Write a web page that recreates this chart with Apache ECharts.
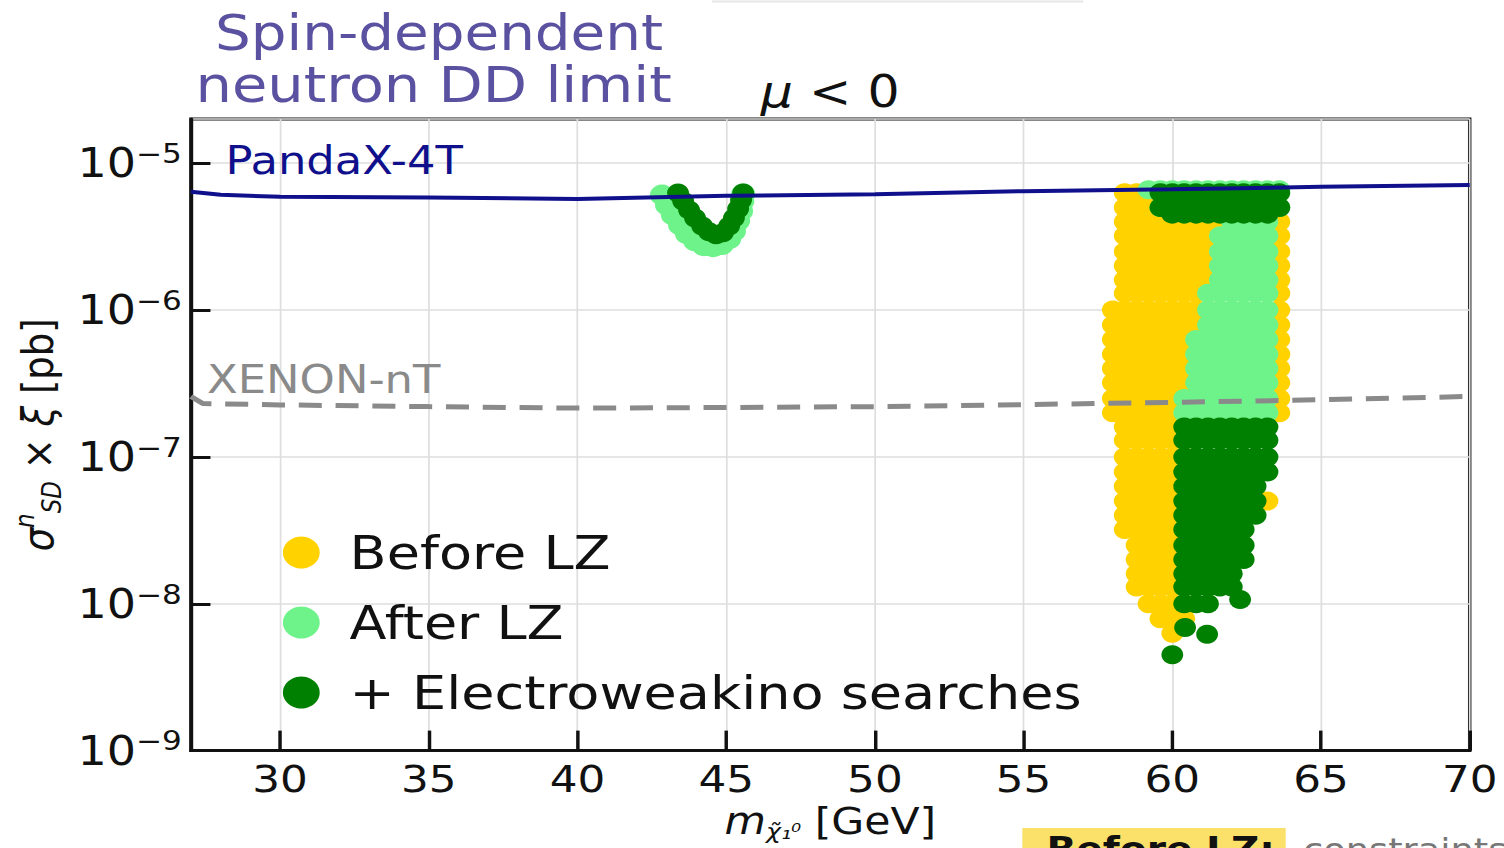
<!DOCTYPE html>
<html>
<head>
<meta charset="utf-8">
<script src="https://cdn.jsdelivr.net/npm/echarts@6/dist/echarts.min.js"></script>
<style>
html,body{margin:0;padding:0;background:#fff;overflow:hidden;width:1504px;height:848px;}
#chart{width:1308px;height:848px;transform:scaleX(1.15);transform-origin:0 0;}
</style>
</head>
<body>
<div id="chart"></div>
<script>
// ---------- data ----------
const xTicks = [30, 35, 40, 45, 50, 55, 60, 65, 70];

// upper limit curves: [mass GeV, sigma pb]
const pandaX4T = [[27, 6.4e-6], [28, 6.1e-6], [30, 5.9e-6], [35, 5.85e-6], [40, 5.7e-6], [45, 6.0e-6],
                  [50, 6.15e-6], [55, 6.45e-6], [60, 6.65e-6], [65, 6.9e-6], [70, 7.1e-6]];
const xenonNT = [[27, 2.58e-7], [27.4, 2.31e-7], [30, 2.26e-7], [35, 2.2e-7], [40, 2.15e-7], [45, 2.17e-7],
                 [50, 2.2e-7], [55, 2.27e-7], [60, 2.35e-7], [65, 2.45e-7], [70, 2.58e-7]];

// scan points, row by row: [sigma pb, [masses GeV]]
const beforeLZRows = [
  [6.3e-6, [58.4, 58.8, 59.2]],
  [5.0e-6, [58.4, 58.8, 59.2, 59.6]],
  [4.0e-6, [58.4, 58.8, 59.2, 59.6, 60.0, 60.4, 60.8, 61.2, 61.6, 62.0, 63.6]],
  [3.2e-6, [58.4, 58.8, 59.2, 59.6, 60.0, 60.4, 60.8, 61.2, 61.6, 63.6]],
  [2.5e-6, [58.4, 58.8, 59.2, 59.6, 60.0, 60.4, 60.8, 61.2, 61.6, 63.6]],
  [2.0e-6, [58.4, 58.8, 59.2, 59.6, 60.0, 60.4, 60.8, 61.2, 61.6, 63.6]],
  [1.6e-6, [58.4, 58.8, 59.2, 59.6, 60.0, 60.4, 60.8, 61.2, 61.6, 63.6]],
  [1.3e-6, [58.4, 58.8, 59.2, 59.6, 60.0, 60.4, 60.8, 61.2, 63.6]],
  [1.0e-6, [58.0, 58.4, 58.8, 59.2, 59.6, 60.0, 60.4, 60.8, 61.2, 63.6]],
  [7.9e-7, [58.0, 58.4, 58.8, 59.2, 59.6, 60.0, 60.4, 60.8, 61.2, 63.6]],
  [6.3e-7, [58.0, 58.4, 58.8, 59.2, 59.6, 60.0, 60.4, 60.8, 63.6]],
  [5.0e-7, [58.0, 58.4, 58.8, 59.2, 59.6, 60.0, 60.4, 60.8, 63.6]],
  [4.0e-7, [58.0, 58.4, 58.8, 59.2, 59.6, 60.0, 60.4, 60.8, 63.6]],
  [3.2e-7, [58.0, 58.4, 58.8, 59.2, 59.6, 60.0, 60.4, 60.8, 63.6]],
  [2.5e-7, [58.0, 58.4, 58.8, 59.2, 59.6, 60.0, 60.4, 63.6]],
  [2.0e-7, [58.0, 58.4, 58.8, 59.2, 59.6, 60.0, 60.4, 63.6]],
  [1.6e-7, [58.4, 58.8, 59.2, 59.6, 60.0, 60.4]],
  [1.3e-7, [58.4, 58.8, 59.2, 59.6, 60.0, 60.4]],
  [1.0e-7, [58.4, 58.8, 59.2, 59.6, 60.0, 60.4]],
  [7.9e-8, [58.4, 58.8, 59.2, 59.6, 60.0, 60.4]],
  [6.3e-8, [58.4, 58.8, 59.2, 59.6, 60.0, 60.4]],
  [5.0e-8, [58.4, 58.8, 59.2, 59.6, 60.0, 60.4, 63.2]],
  [4.0e-8, [58.4, 58.8, 59.2, 59.6, 60.0, 60.4]],
  [3.2e-8, [58.4, 58.8, 59.2, 59.6, 60.0, 60.4]],
  [2.5e-8, [58.8, 59.2, 59.6, 60.0, 60.4]],
  [2.0e-8, [58.8, 59.2, 59.6, 60.0, 60.4]],
  [1.6e-8, [58.8, 59.2, 59.6, 60.0, 60.4]],
  [1.3e-8, [58.8, 59.2, 59.6, 60.0, 60.4]],
  [1.0e-8, [59.2, 59.6, 60.0, 60.4]],
  [7.9e-9, [59.6, 60.0, 60.4]],
  [6.3e-9, [60.0]]
];

const afterLZRows = [
  [6.6e-6, [59.2, 59.6, 60.0, 60.4, 60.8, 61.2, 61.6, 62.0, 62.4, 62.8, 63.2, 63.6]],
  [5.0e-6, [59.6, 60.0, 60.4, 60.8, 61.2, 61.6, 62.0, 62.4, 62.8, 63.2, 63.6]],
  [4.0e-6, [62.0, 62.4, 62.8, 63.2]],
  [3.2e-6, [61.6, 62.0, 62.4, 62.8, 63.2]],
  [2.5e-6, [61.6, 62.0, 62.4, 62.8, 63.2]],
  [2.0e-6, [61.6, 62.0, 62.4, 62.8, 63.2]],
  [1.6e-6, [61.6, 62.0, 62.4, 62.8, 63.2]],
  [1.3e-6, [61.2, 61.6, 62.0, 62.4, 62.8, 63.2]],
  [1.0e-6, [61.2, 61.6, 62.0, 62.4, 62.8, 63.2]],
  [7.9e-7, [61.2, 61.6, 62.0, 62.4, 62.8, 63.2]],
  [6.3e-7, [60.8, 61.2, 61.6, 62.0, 62.4, 62.8, 63.2]],
  [5.0e-7, [60.8, 61.2, 61.6, 62.0, 62.4, 62.8, 63.2]],
  [4.0e-7, [60.8, 61.2, 61.6, 62.0, 62.4, 62.8, 63.2]],
  [3.2e-7, [60.8, 61.2, 61.6, 62.0, 62.4, 62.8, 63.2]],
  [2.5e-7, [60.4, 60.8, 61.2, 61.6, 62.0, 62.4, 62.8, 63.2]],
  [2.0e-7, [60.4, 60.8, 61.2, 61.6, 62.0, 62.4, 62.8, 63.2]]
];
// valley of points near 45 GeV
const afterLZValley = [[42.84, 6.07e-6], [43.01, 5.19e-6], [43.21, 4.44e-6], [43.45, 3.80e-6], [43.68, 3.31e-6],
  [43.95, 2.96e-6], [44.25, 2.74e-6], [44.56, 2.70e-6], [44.85, 2.79e-6], [45.10, 3.06e-6], [45.26, 3.46e-6],
  [45.40, 4.05e-6], [45.50, 4.73e-6], [45.54, 5.53e-6], [45.57, 6.17e-6]];

const ewkinoRows = [
  [6.3e-6, [59.6, 60.0, 60.4, 60.8, 61.2, 61.6, 62.0, 62.4, 62.8, 63.2, 63.6]],
  [5.0e-6, [59.6, 60.0, 60.4, 60.8, 61.2, 61.6, 62.0, 62.4, 62.8, 63.2, 63.6]],
  [4.5e-6, [60.0, 60.4, 60.8, 61.2, 61.6, 62.0, 62.4, 62.8, 63.2]],
  [1.6e-7, [60.4, 60.8, 61.2, 61.6, 62.0, 62.4, 62.8, 63.2]],
  [1.3e-7, [60.4, 60.8, 61.2, 61.6, 62.0, 62.4, 62.8, 63.2]],
  [1.0e-7, [60.4, 60.8, 61.2, 61.6, 62.0, 62.4, 62.8, 63.2]],
  [7.9e-8, [60.4, 60.8, 61.2, 61.6, 62.0, 62.4, 62.8, 63.2]],
  [6.3e-8, [60.4, 60.8, 61.2, 61.6, 62.0, 62.4, 62.8]],
  [5.0e-8, [60.4, 60.8, 61.2, 61.6, 62.0, 62.4, 62.8]],
  [4.0e-8, [60.4, 60.8, 61.2, 61.6, 62.0, 62.4, 62.8]],
  [3.2e-8, [60.4, 60.8, 61.2, 61.6, 62.0, 62.4]],
  [2.5e-8, [60.4, 60.8, 61.2, 61.6, 62.0, 62.4]],
  [2.0e-8, [60.4, 60.8, 61.2, 61.6, 62.0, 62.4]],
  [1.6e-8, [60.4, 60.8, 61.2, 61.6, 62.0]],
  [1.3e-8, [60.4, 60.8, 61.2, 61.6, 62.0]],
  [1.0e-8, [60.4, 60.8, 61.2]]
];
const ewkinoSingles = [[60.43, 6.9e-9], [61.17, 6.2e-9], [60.0, 4.5e-9], [62.28, 1.07e-8]];
const ewkinoValley = [[43.38, 6.26e-6], [43.55, 5.53e-6], [43.75, 4.81e-6], [43.95, 4.24e-6], [44.19, 3.74e-6],
  [44.42, 3.41e-6], [44.66, 3.26e-6], [44.89, 3.36e-6], [45.10, 3.74e-6], [45.26, 4.24e-6], [45.40, 4.88e-6],
  [45.50, 5.62e-6], [45.57, 6.26e-6]];

const legendNames = ['Before LZ', 'After LZ', '+ Electroweakino searches'];

// ---------- chart ----------
function rowsToPoints(rows) {
  const out = [];
  rows.forEach(function (r) { r[1].forEach(function (x) { out.push([x, r[0]]); }); });
  return out;
}

const FONT = 'DejaVu Sans';
const YELLOW = '#ffd200', LIGHT = '#6ef38a', DARK = '#008000';
const chart = echarts.init(document.getElementById('chart'), null, { renderer: 'svg' });

function scatter(name, data, color, size) {
  return { name: name, type: 'scatter', data: data, symbol: 'circle', symbolSize: size,
           itemStyle: { color: color, opacity: 1 }, silent: true, z: 2, emphasis: { disabled: true } };
}

chart.setOption({
  animation: false,
  backgroundColor: '#fff',
  grid: { left: 166, right: 30, top: 119, bottom: 94, show: true, borderColor: '#111', borderWidth: 3,
          backgroundColor: 'transparent' },
  legend: {
    data: legendNames, orient: 'vertical', left: 241, top: 524, itemWidth: 32, itemHeight: 32,
    itemGap: 23, icon: 'circle', selectedMode: false,
    textStyle: { fontFamily: FONT, fontSize: 47, lineHeight: 47, color: '#111', padding: [0, 0, 0, 21] }
  },
  xAxis: {
    type: 'value', min: 27, max: 70,
    name: '{i|m}{sub|\u03c7\u0303\u2081\u2070}{n| [GeV]}', nameLocation: 'middle', nameGap: 40,
    nameTextStyle: { rich: {
      i: { fontFamily: FONT, fontSize: 37, fontStyle: 'italic', lineHeight: 44, color: '#111' },
      sub: { fontFamily: FONT, fontSize: 22, fontStyle: 'italic', lineHeight: 22, verticalAlign: 'bottom', color: '#111' },
      n: { fontFamily: FONT, fontSize: 37, lineHeight: 44, color: '#111' } } },
    axisLine: { show: true, onZero: false, lineStyle: { color: '#111', width: 3 } },
    axisTick: { show: true, inside: true, length: 20, customValues: xTicks, lineStyle: { color: '#111', width: 3 } },
    axisLabel: { customValues: xTicks, fontFamily: FONT, fontSize: 38, color: '#111', margin: 9 },
    splitLine: { show: true, lineStyle: { color: '#dedede', width: 1.5 } }
  },
  yAxis: {
    type: 'log', logBase: 10, min: 1e-9, max: 2e-5,
    name: '{i|\u03c3}{sup|n}{sub|SD}{n| \u00d7 }{i|\u03be}{n| [pb]}', nameLocation: 'middle', nameRotate: 90, nameGap: 106,
    nameTextStyle: { rich: {
      i: { fontFamily: FONT, fontSize: 37, fontStyle: 'italic', lineHeight: 46, color: '#111' },
      sup: { fontFamily: FONT, fontSize: 23, fontStyle: 'italic', lineHeight: 23, verticalAlign: 'top', color: '#111' },
      sub: { fontFamily: FONT, fontSize: 23, fontStyle: 'italic', lineHeight: 23, verticalAlign: 'bottom', color: '#111' },
      n: { fontFamily: FONT, fontSize: 37, lineHeight: 46, color: '#111' } } },
    axisLine: { show: true, onZero: false, lineStyle: { color: '#111', width: 3 } },
    axisTick: { show: true, inside: true, length: 17, lineStyle: { color: '#111', width: 3 } },
    minorTick: { show: false },
    axisLabel: {
      showMaxLabel: false, margin: 8,
      formatter: function (v) {
        const e = Math.log10(v), r = Math.round(e);
        if (Math.abs(e - r) > 0.01) return '';
        return '{b|10}{s|\u2212' + (-r) + '}';
      },
      rich: {
        b: { fontFamily: FONT, fontSize: 40, lineHeight: 46, color: '#111' },
        s: { fontFamily: FONT, fontSize: 27, lineHeight: 27, verticalAlign: 'top', color: '#111' }
      }
    },
    splitLine: { show: true, lineStyle: { color: '#dedede', width: 1.5 } }
  },
  series: [
    scatter('Before LZ', rowsToPoints(beforeLZRows), YELLOW, 19),
    scatter('After LZ', rowsToPoints(afterLZRows), LIGHT, 19),
    scatter('After LZ', afterLZValley, LIGHT, 21),
    scatter('+ Electroweakino searches', rowsToPoints(ewkinoRows).concat(ewkinoSingles), DARK, 19),
    scatter('+ Electroweakino searches', ewkinoValley, DARK, 19),
    { name: 'PandaX-4T', type: 'line', data: pandaX4T, showSymbol: false, silent: true, z: 5,
      lineStyle: { color: '#10108c', width: 4 } },
    { name: 'XENON-nT', type: 'line', data: xenonNT, showSymbol: false, silent: true, z: 5,
      lineStyle: { color: '#8a8a8a', width: 5, type: [20, 12] } }
  ],
  graphic: [
    { type: 'text', x: 187, y: 33, style: { text: 'Spin-dependent', fontFamily: FONT, fontSize: 49,
      fill: '#5a52a0', align: 'left', verticalAlign: 'middle' } },
    { type: 'text', x: 170, y: 85, style: { text: 'neutron DD limit', fontFamily: FONT, fontSize: 50,
      fill: '#5a52a0', align: 'left', verticalAlign: 'middle' } },
    { type: 'text', x: 722, y: 92, style: { text: '{i|\u03bc}{n| < 0}', align: 'center', verticalAlign: 'middle',
      rich: { i: { fontFamily: FONT, fontSize: 44, fontStyle: 'italic', fill: '#111' },
              n: { fontFamily: FONT, fontSize: 44, fill: '#111' } } } },
    { type: 'text', x: 196, y: 161, z: 10, style: { text: 'PandaX-4T', fontFamily: FONT, fontSize: 39, fill: '#10108c',
      align: 'left', verticalAlign: 'middle' } },
    { type: 'text', x: 180, y: 380, z: 10, style: { text: 'XENON-nT', fontFamily: FONT, fontSize: 39, fill: '#8a8a8a',
      align: 'left', verticalAlign: 'middle' } },
    { type: 'line', shape: { x1: 619, y1: 1.5, x2: 942, y2: 1.5 }, style: { stroke: '#e6e6e6', lineWidth: 2 } },
    { type: 'rect', shape: { x: 889, y: 828, width: 229, height: 30 }, style: { fill: '#fbe06a' } },
    { type: 'text', x: 910, y: 832, style: { text: 'Before LZ:', fontFamily: FONT, fontSize: 34, fontWeight: 'bold',
      fill: '#111', align: 'left', verticalAlign: 'top' } },
    { type: 'text', x: 1133, y: 834, style: { text: 'constraints', fontFamily: FONT, fontSize: 32,
      fill: '#777', align: 'left', verticalAlign: 'top' } }
  ]
});
</script>
</body>
</html>
